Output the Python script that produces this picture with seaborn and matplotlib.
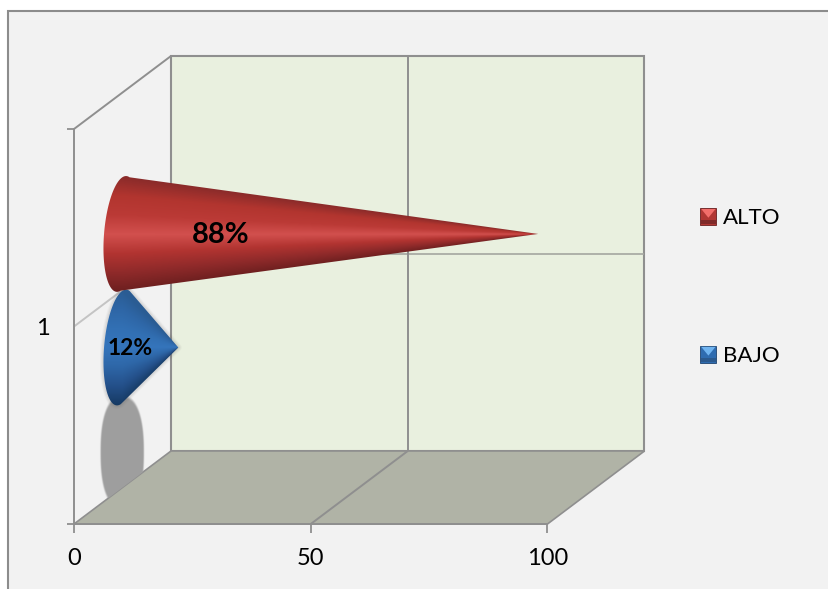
import numpy as np
import pandas as pd
import matplotlib
matplotlib.use("Agg")
import matplotlib.pyplot as plt
import seaborn as sns
from matplotlib.colors import LinearSegmentedColormap
from matplotlib.legend_handler import HandlerBase
from matplotlib.patches import Patch, PathPatch, Polygon, Rectangle
from matplotlib.path import Path

# Survey result
levels = ["ALTO", "BAJO"]
values = [88, 12]
category = ["1", "1"]
x_ticks = [0, 50, 100]

# Colours
PANEL = "#f2f2f2"
WALL = "#e9f0df"
FLOOR = "#b0b3a6"
LINE = "#8f8f8f"
base_colors = {"ALTO": "#b5352f", "BAJO": "#3473b8"}
ramps = {
    "ALTO": ["#8a2b2a", "#b2352f", "#bb3a36", "#d2504e", "#b23431", "#8f2a2a", "#6c1f1f"],
    "BAJO": ["#2a5c93", "#2e66a6", "#3270b4", "#3575bc", "#2e67a8", "#24508a", "#163a63"],
}
swatches = {
    "ALTO": ("#f26e6a", "#b13733", "#7f2a29", "#6a2020"),
    "BAJO": ("#70b4f0", "#2f6cb0", "#2c5a8e", "#1f4470"),
}

W, H = 829, 589
DEPTH = np.array([97.0, -73.0])  # oblique offset of the back wall, in pixels

sns.set_theme(style="white")
plt.rcParams["font.family"] = ["Lato", "DejaVu Sans"]

fig = plt.figure(figsize=(W / 100, H / 100), dpi=100, facecolor="white")

# Pixel-addressed canvas behind the axes, carrying the oblique box and cones
canvas = fig.add_axes([0, 0, 1, 1], zorder=0)
canvas.set_xlim(0, W)
canvas.set_ylim(H, 0)
canvas.axis("off")

ax = fig.add_axes([74 / W, (H - 524) / H, 473.5 / W, 395 / H], zorder=1)
ax.patch.set_alpha(0)

frame = pd.DataFrame({"cat": category, "nivel": levels, "valor": values})
sns.barplot(data=frame, x="valor", y="cat", hue="nivel", hue_order=levels,
            palette=base_colors, width=0.575, legend=False, ax=ax)
ax.set_xlim(0, 100)
ax.set_ylim(0.5, -0.5)
ax.set_xlabel("")
ax.set_ylabel("")

ax.set_xticks(x_ticks)
ax.set_yticks([0])
ax.set_yticks([-0.5, 0.5], minor=True)
ax.tick_params(axis="x", length=6.5, width=1.3, color=LINE, labelsize=17, pad=11, labelcolor="black", bottom=True)
ax.tick_params(axis="y", which="major", length=0, labelsize=17, pad=17.5, labelcolor="black")
ax.tick_params(axis="y", which="minor", length=5, width=1.3, color=LINE, left=True)
sns.despine(ax=ax, top=True, right=True)
for side in ("left", "bottom"):
    ax.spines[side].set_color(LINE)
    ax.spines[side].set_linewidth(1.4)


def project(x, y, depth=0.0):
    """Data position at a fraction of the box depth, as canvas pixels."""
    px, py = ax.transData.transform((x, y))
    return np.array([px, H - py]) + DEPTH * depth


# Outer panel
canvas.add_patch(Rectangle((8, 11), W + 20, H + 20, facecolor=PANEL, edgecolor="#8c8c8c", lw=1.5, zorder=0))

# Box: back wall, floor, left wall
x0, x1 = ax.get_xlim()
ybot, ytop = ax.get_ylim()
back = [project(x0, ybot, 1), project(x1, ybot, 1), project(x1, ytop, 1), project(x0, ytop, 1)]
floor = [project(x0, ybot), project(x1, ybot), project(x1, ybot, 1), project(x0, ybot, 1)]
canvas.add_patch(Polygon(back, closed=True, facecolor=WALL, edgecolor=LINE, lw=1.5, zorder=1))
canvas.add_patch(Polygon(floor, closed=True, facecolor=FLOOR, edgecolor=LINE, lw=1.2, zorder=1))


def seg(a, b, color=LINE, lw=1.4):
    canvas.plot([a[0], b[0]], [a[1], b[1]], color=color, lw=lw, zorder=2, solid_capstyle="butt")


seg(project(x0, ytop), project(x0, ytop, 1))
seg(project(x0, 0), project(x0, 0, 1), color="#c4c4c4")
seg(project(x0, 0, 1), project(x1, 0, 1), color="#a4a6a0", lw=1.2)
seg(project(50, ybot), project(50, ybot, 1))
seg(project(50, ybot, 1), project(50, ytop, 1))


def soft_image(extent, rgb, alpha_fn, zorder, clip=None):
    xa, xb, ya, yb = extent
    xs, ys = np.meshgrid(np.arange(xa, xb, 0.5), np.arange(ya, yb, 0.5))
    rgba = np.zeros(xs.shape + (4,))
    rgba[..., :3] = rgb
    rgba[..., 3] = alpha_fn(xs, ys)
    im = canvas.imshow(rgba, extent=(xa, xb, yb, ya), aspect="auto", zorder=zorder, interpolation="bilinear")
    if clip is not None:
        im.set_clip_path(clip)


def smooth(t):
    t = np.clip(t, 0, 1)
    return t * t * (3 - 2 * t)


# Bars give the cone lengths and widths
bars = [c.patches[0] for c in ax.containers]
cones = []
for name, bar in zip(levels, bars):
    yc = bar.get_y() + bar.get_height() / 2
    base = project(0, yc, 0.49)
    tip = project(bar.get_width(), yc, 0.49)
    half = 1.02 * abs(project(0, bar.get_y())[1] - project(0, bar.get_y() + bar.get_height())[1]) / 2
    cones.append((name, base, tip, half, int(round(bar.get_width()))))
    bar.set_visible(False)

# Soft shadow thrown by the lower cone on the left wall
_, blue_base, _, blue_half, _ = cones[1]
sx, sy = blue_base[0] + 0.5, blue_base[1] + 104
wall_clip = Polygon([project(x0, ytop), project(x0, ytop, 1), project(x0, ybot, 1), project(x0, ybot)],
                    closed=True, transform=canvas.transData)
soft_image((sx - 32, sx + 32, sy - 70, sy + 70), np.array([0.62, 0.62, 0.62]),
           lambda X, Y: smooth((1 - (np.abs((X - sx) / 22.5) ** 2.4 + np.abs((Y - sy) / 58) ** 2.4)) / 0.18),
           3, clip=wall_clip)


def cone_path(base, tip, half, a=17.5, shear=4.5):
    t = np.radians(np.linspace(78, 282, 60))
    px = base[0] + a * np.cos(t) + shear * np.sin(t)
    py = base[1] - half * np.sin(t)
    pts = np.column_stack([px, py])
    pts = np.vstack([[tip], pts, [tip]])
    return Path(pts, closed=True)


for order, (name, base, tip, half, val) in zip((6, 5), cones):
    path = cone_path(base, tip, half)
    # halo under the cone
    if name == "BAJO":
        for lw, al in ((5, 0.04), (3.5, 0.06), (2, 0.08)):
            canvas.add_patch(PathPatch(path, facecolor="none", edgecolor="#555555", lw=lw, alpha=al,
                                       zorder=order - 0.5, joinstyle="round"))
    cmap = LinearSegmentedColormap.from_list(name, ramps[name])
    xa, xb = base[0] - 30, tip[0] + 2
    ya, yb = base[1] - half - 4, base[1] + half + 4
    xs, ys = np.meshgrid(np.arange(xa, xb, 0.5), np.arange(ya, yb, 0.5))
    local = half * np.clip((tip[0] - xs) / (tip[0] - base[0]), 0.005, 1)
    u = np.clip((ys - base[1]) / local, -1, 1)
    im = canvas.imshow(cmap((u + 1) / 2), extent=(xa, xb, yb, ya), aspect="auto", zorder=order,
                       interpolation="bilinear")
    im.set_clip_path(PathPatch(path, transform=canvas.transData))

canvas.set_xlim(0, W)
canvas.set_ylim(H, 0)

# Value labels
for (name, base, tip, half, val), lx, size in zip(cones, (220.5, 130), (21, 16.5)):
    canvas.text(lx, base[1] + 1, f"{val}%", ha="center", va="center", fontsize=size,
                fontweight="bold", color="black", zorder=8)


class BevelHandler(HandlerBase):
    """Legend key drawn as a small bevelled square."""

    def create_artists(self, legend, orig, xd, yd, width, height, fontsize, trans):
        top, mid, low, edge = swatches[orig.get_label()]
        x, y = -xd, -yd
        cx, cy = x + width / 2, y + height * 0.42
        i = width * 0.06
        square = Rectangle((x, y), width, height, facecolor=mid, edgecolor=edge, lw=0.6, transform=trans)
        lower = Polygon([(x + i, y + i), (x + width - i, y + i), (x + width - i, y + height * 0.3),
                         (x + i, y + height * 0.3)], closed=True, facecolor=low, edgecolor="none", transform=trans)
        upper = Polygon([(x + i, y + height - i), (x + width - i, y + height - i), (cx, cy)], closed=True,
                        facecolor=top, edgecolor="none", transform=trans)
        return [square, lower, upper]


handles = [Patch(label=n) for n in levels]
legend = canvas.legend(handles=handles, labels=levels, loc="center left",
                       bbox_to_anchor=(682.5, 287), bbox_transform=canvas.transData,
                       frameon=False, fontsize=16, labelspacing=5.3, handlelength=0.73, handleheight=0.78,
                       handletextpad=0.28, borderpad=0.3, labelcolor="black",
                       handler_map={Patch: BevelHandler()})
legend.set_zorder(9)

fig.savefig("out.png", dpi=100, facecolor="white")
